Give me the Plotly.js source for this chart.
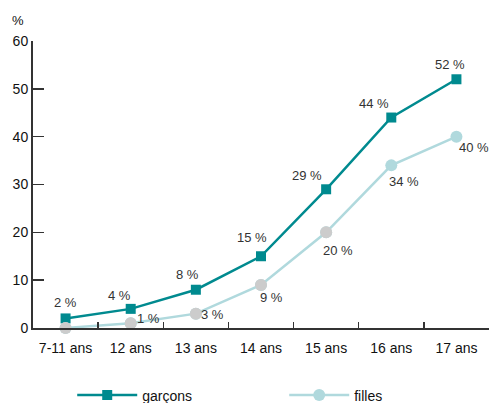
<!DOCTYPE html>
<html>
<head>
<meta charset="utf-8">
<script src="https://cdn.plot.ly/plotly-3.0.1.min.js"></script>
<style>html,body{margin:0;padding:0;background:#fff;}#chart{width:494px;height:403px;}</style>
</head>
<body>
<div id="chart"></div>
<script>
var categories = ["7-11 ans", "12 ans", "13 ans", "14 ans", "15 ans", "16 ans", "17 ans"];
var garcons = [2, 4, 8, 15, 29, 44, 52];
var filles = [0, 1, 3, 9, 20, 34, 40];
var garconsLabels = ["2 %", "4 %", "8 %", "15 %", "29 %", "44 %", "52 %"];
var fillesLabels = ["", "1 %", "3 %", "9 %", "20 %", "34 %", "40 %"];
var yTicks = [0, 10, 20, 30, 40, 50, 60];
var greyCount = 5; // first filles points drawn with grey markers

// label offsets in pixels (style only)
var gShiftX = [0, -11, -8, -9, -19, -17, -6];
var gShiftY = [16, 13, 15, 19, 14, 14, 15];
var fShiftX = [0, 18, 17, 10, 12, 13, 18];
var fShiftY = [0, 5, -1, -13, -18, -16, -11];

var teal = "#008a8f", light = "#b0d9dd", grey = "#cccccc";
var lblFont = {family: "Liberation Sans, Arial, sans-serif", size: 13, color: "#333"};

var traces = [
  {
    x: categories, y: garcons, name: "garçons", type: "scatter", mode: "lines+markers",
    line: {color: teal, width: 2.5},
    marker: {symbol: "square", size: 10, color: teal},
    cliponaxis: false
  },
  {
    x: categories, y: filles, name: "filles", type: "scatter", mode: "lines+markers",
    line: {color: light, width: 2.5},
    marker: {symbol: "circle", size: 12, color: light},
    cliponaxis: false
  },
  {
    x: categories.slice(0, greyCount), y: filles.slice(0, greyCount), name: "filles", type: "scatter", mode: "markers",
    marker: {symbol: "circle", size: 12, color: grey},
    showlegend: false, hoverinfo: "skip",
    cliponaxis: false
  }
];

var annotations = [
  {text: "%", xref: "paper", yref: "paper", x: -0.033, y: 1.073, showarrow: false, xanchor: "center", yanchor: "middle", font: {size: 13, color: "#111"}}
];
categories.forEach(function (c, i) {
  if (garconsLabels[i]) annotations.push({x: c, y: garcons[i], text: garconsLabels[i], showarrow: false,
    xanchor: "center", yanchor: "middle", xshift: gShiftX[i], yshift: gShiftY[i], font: lblFont});
  if (fillesLabels[i]) annotations.push({x: c, y: filles[i], text: fillesLabels[i], showarrow: false,
    xanchor: "center", yanchor: "middle", xshift: fShiftX[i], yshift: fShiftY[i], font: lblFont});
});

var layout = {
  width: 494, height: 403,
  margin: {l: 33, r: 5, t: 41, b: 75, autoexpand: false},
  paper_bgcolor: "#fff", plot_bgcolor: "#fff",
  font: {family: "Liberation Sans, Arial, sans-serif", size: 14, color: "#111"},
  showlegend: true,
  legend: {
    orientation: "h", x: 0.086, xanchor: "left", y: -0.235, yanchor: "middle",
    entrywidth: 137, entrywidthmode: "pixels", itemwidth: 60,
    font: {size: 14, color: "#111"}
  },
  xaxis: {
    type: "category", range: [-0.5, 6.5], fixedrange: true,
    showline: true, linecolor: "#333", linewidth: 2,
    ticks: "inside", tickson: "boundaries", ticklen: 6, tickcolor: "#333", tickwidth: 1.5,
    ticklabelstandoff: 6,
    showgrid: false, zeroline: false,
    tickfont: {size: 14, color: "#111"}
  },
  yaxis: {
    range: [0, 60], tickvals: yTicks, fixedrange: true,
    showline: true, linecolor: "#333", linewidth: 2,
    ticks: "inside", ticklen: 11, tickcolor: "#333", tickwidth: 1.5,
    showgrid: false, zeroline: false,
    tickfont: {size: 14, color: "#111"}
  },
  annotations: annotations
};

Plotly.newPlot("chart", traces, layout, {displayModeBar: false, staticPlot: true});
</script>
</body>
</html>
